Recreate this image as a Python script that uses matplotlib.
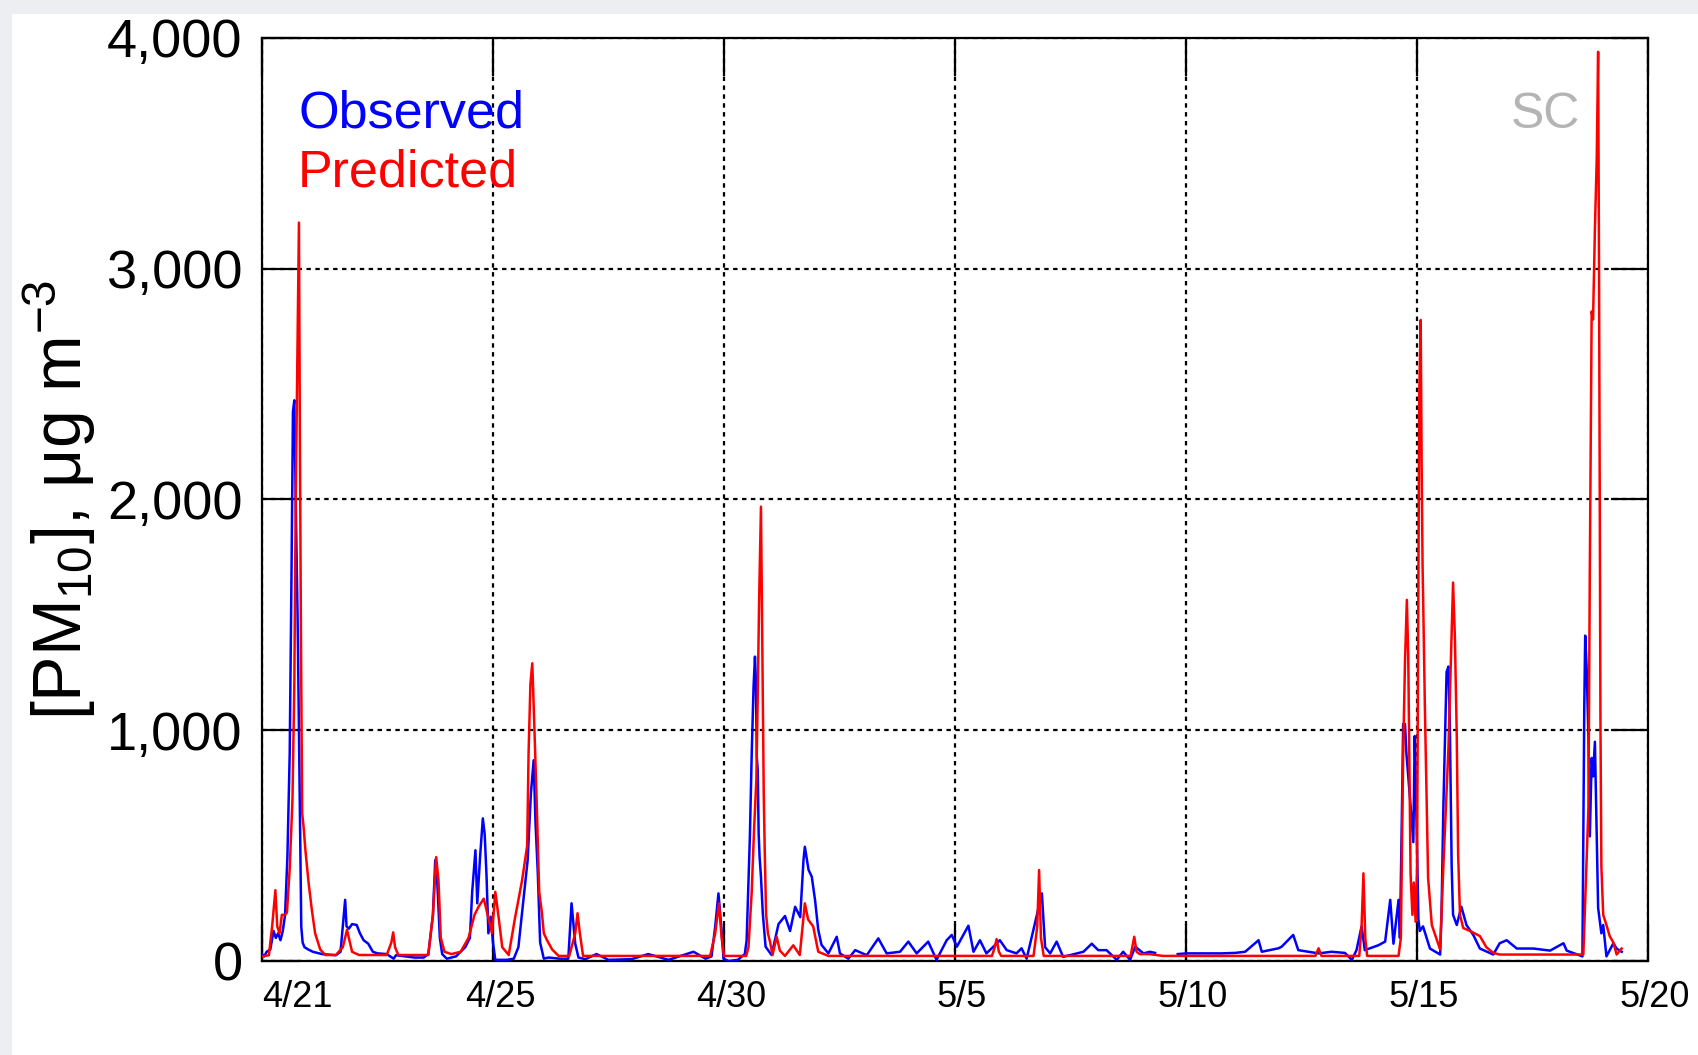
import numpy as np
import matplotlib
matplotlib.use("Agg")
import matplotlib.pyplot as plt
import matplotlib.transforms as mtransforms
from matplotlib.ticker import FuncFormatter
from matplotlib.patches import Rectangle

plt.rcParams['font.family'] = ['Liberation Sans', 'DejaVu Sans']
plt.rcParams['mathtext.fontset'] = 'custom'
plt.rcParams['mathtext.rm'] = 'Liberation Sans'
plt.rcParams['mathtext.it'] = 'Liberation Sans:italic'

# days since 4/20 00:00 and [PM10] in ug/m3
obs_day = [0.00, 0.05, 0.10, 0.18, 0.25, 0.30, 0.35, 0.40, 0.45, 0.50, 0.55, 0.60, 0.64, 0.67,
           0.70, 0.73, 0.77, 0.80, 0.83, 0.85, 0.88, 0.92, 1.00, 1.10, 1.30, 1.60, 1.70, 1.75,
           1.80, 1.83, 1.88, 1.95, 2.05, 2.12, 2.20, 2.30, 2.40, 2.50, 2.70, 2.85, 2.90, 3.10,
           3.30, 3.50, 3.60, 3.70, 3.75, 3.78, 3.85, 3.90, 4.00, 4.20, 4.40, 4.50, 4.55, 4.62,
           4.66, 4.72, 4.78, 4.82, 4.86, 4.90, 4.95, 5.00, 5.05, 5.30, 5.45, 5.55, 5.65, 5.75,
           5.82, 5.88, 5.92, 5.97, 6.02, 6.10, 6.20, 6.45, 6.63, 6.70, 6.78, 6.85, 7.00, 7.24,
           7.50, 8.00, 8.36, 8.80, 9.34, 9.60, 9.73, 9.81, 9.88, 9.94, 9.99, 10.10, 10.30, 10.45,
           10.49, 10.56, 10.60, 10.64, 10.67, 10.69, 10.71, 10.73, 10.75, 10.77, 10.80, 10.84,
           10.90, 11.03, 11.18, 11.32, 11.43, 11.54, 11.65, 11.72, 11.75, 11.83, 11.90, 11.97,
           12.04, 12.11, 12.26, 12.44, 12.51, 12.69, 12.84, 13.09, 13.34, 13.52, 13.81, 13.99,
           14.17, 14.42, 14.60, 14.82, 14.93, 15.04, 15.29, 15.40, 15.54, 15.68, 15.83, 15.97,
           16.12, 16.33, 16.44, 16.55, 16.73, 16.88, 16.95, 17.06, 17.20, 17.34, 17.78, 17.96,
           18.10, 18.28, 18.50, 18.64, 18.79, 18.90, 19.08, 19.22, 19.33, 19.34, 19.82, 20.00,
           20.77, 21.06, 21.28, 21.57, 21.64, 22.00, 22.07, 22.32, 22.43, 22.65, 22.87, 23.15,
           23.44, 23.59, 23.69, 23.80, 23.87, 24.16, 24.31, 24.42, 24.49, 24.60, 24.63, 24.67,
           24.70, 24.74, 24.77, 24.85, 24.92, 24.95, 24.98, 25.03, 25.06, 25.13, 25.28, 25.50,
           25.53, 25.57, 25.64, 25.68, 25.71, 25.75, 25.78, 25.86, 25.96, 26.07, 26.22, 26.36,
           26.65, 26.79, 26.94, 27.16, 27.52, 27.88, 28.17, 28.24, 28.58, 28.62, 28.64, 28.67,
           28.71, 28.74, 28.78, 28.81, 28.85, 28.89, 28.92, 28.99, 29.03, 29.10, 29.25, 29.32,
           29.43]
obs_val = [30, 20, 40, 50, 130, 100, 120, 90, 130, 200, 450, 900, 1700, 2380,
           2430, 2000, 1500, 1000, 500, 150, 80, 60, 50, 40, 30, 25, 40, 150,
           265, 150, 140, 160, 156, 120, 90, 75, 40, 33, 30, 10, 25, 20,
           15, 15, 30, 200, 437, 400, 100, 30, 10, 20, 60, 100, 300, 480,
           250, 450, 618, 550, 370, 120, 192, 80, 5, 5, 10, 60, 250, 437,
           725, 870, 600, 380, 80, 10, 15, 10, 10, 250, 75, 15, 8, 30,
           5, 8, 30, 5, 40, 10, 20, 150, 293, 150, 10, 0, 5, 30,
           90, 538, 900, 1190, 1319, 1218, 886, 827, 553, 452, 365, 206,
           62, 26, 160, 195, 130, 235, 190, 437, 495, 395, 365, 265,
           135, 70, 33, 105, 33, 10, 47, 25, 98, 33, 40, 84,
           33, 84, 5, 90, 113, 62, 153, 40, 90, 33, 62, 90,
           47, 33, 55, 10, 163, 293, 60, 33, 84, 18, 40, 75,
           47, 47, 5, 40, 5, 62, 33, 40, 35, np.nan, 30, 33,
           33, 35, 40, 90, 40, 55, 62, 113, 47, 40, 33, 40,
           35, 5, 47, 150, 47, 68, 84, 265, 75, 265, 100, 600,
           1027, 1027, 900, 700, 515, 975, 700, 180, 130, 150, 54, 28,
           200, 666, 1253, 1276, 1027, 410, 200, 156, 235, 156, 112, 54,
           28, 77, 90, 54, 54, 45, 77, 45, 20, 1100, 1410, 1276,
           975, 540, 880, 800, 950, 540, 230, 120, 156, 20, 77, 54,
           40]

pred_day = [0.00, 0.15, 0.22, 0.29, 0.33, 0.38, 0.43, 0.50, 0.54, 0.60, 0.66, 0.70, 0.73, 0.76,
            0.80, 0.82, 0.845, 0.87, 0.90, 0.94, 1.01, 1.08, 1.15, 1.26, 1.37, 1.60, 1.75, 1.84,
            1.95, 2.10, 2.70, 2.80, 2.84, 2.88, 2.95, 3.60, 3.70, 3.77, 3.82, 3.87, 3.95, 4.10,
            4.30, 4.47, 4.60, 4.69, 4.80, 4.98, 5.05, 5.12, 5.20, 5.34, 5.48, 5.63, 5.74, 5.77,
            5.81, 5.85, 5.89, 5.94, 6.00, 6.06, 6.10, 6.17, 6.28, 6.42, 6.65, 6.78, 6.83, 6.88,
            6.95, 9.70, 9.81, 9.89, 9.95, 10.00, 10.48, 10.53, 10.60, 10.65, 10.70, 10.73, 10.76,
            10.80, 10.82, 10.84, 10.86, 10.88, 10.91, 10.95, 11.00, 11.05, 11.14, 11.21, 11.32,
            11.50, 11.64, 11.75, 11.82, 11.93, 12.04, 12.26, 15.80, 15.86, 15.90, 15.95, 16.00,
            16.70, 16.78, 16.82, 16.86, 16.92, 18.80, 18.88, 18.93, 19.00, 19.20, 19.50, 22.80,
            22.87, 22.93, 23.75, 23.80, 23.84, 23.88, 23.92, 24.60, 24.65, 24.70, 24.74, 24.78,
            24.81, 24.86, 24.90, 24.93, 24.97, 25.00, 25.03, 25.05, 25.08, 25.10, 25.12, 25.135,
            25.17, 25.21, 25.24, 25.32, 25.50, 25.57, 25.68, 25.75, 25.78, 25.82, 25.86, 25.89,
            25.93, 26.00, 26.15, 26.36, 26.50, 26.65, 26.79, 28.60, 28.71, 28.74, 28.78, 28.81,
            28.85, 28.89, 28.92, 28.94, 28.96, 28.97, 28.99, 29.03, 29.10, 29.17, 29.25, 29.32,
            29.43]
pred_val = [20, 25, 150, 307, 150, 120, 200, 200, 210, 400, 700, 1200, 2000, 2520,
            3200, 2290, 1350, 640, 582, 480, 337, 220, 120, 50, 26, 26, 60, 135,
            40, 26, 26, 80, 124, 60, 26, 26, 200, 450, 350, 100, 40, 30,
            40, 100, 200, 236, 270, 120, 300, 192, 60, 26, 190, 350, 500, 900,
            1200, 1290, 1050, 725, 300, 206, 120, 90, 50, 22, 22, 120, 207, 120,
            22, 22, 120, 250, 100, 22, 22, 60, 300, 568, 784, 1145, 1564,
            1969, 1550, 1145, 727, 495, 206, 120, 80, 26, 105, 45, 22,
            68, 26, 250, 180, 150, 40, 22, 22, 60, 95, 40, 22,
            22, 150, 394, 100, 22, 22, 105, 40, 30, 30, 22, 22,
            55, 22, 22, 150, 380, 100, 22, 22, 100, 900, 1300, 1565,
            1320, 380, 200, 340, 170, 400, 1640, 2483, 2778, 2150, 1716, 1540,
            1100, 666, 360, 156, 50, 410, 923, 1435, 1640, 1400, 976, 462,
            200, 143, 130, 108, 60, 35, 28, 28, 666, 1690, 2815, 2780,
            3170, 3480, 3940, 2970, 1690, 1050, 410, 200, 156, 108, 80, 28,
            54]

tick_days = [0, 5, 10, 15, 20, 25, 30]
tick_labels = ['4/21', '4/25', '4/30', '5/5', '5/10', '5/15', '5/20']
y_ticks = [0, 1000, 2000, 3000, 4000]

fig = plt.figure(figsize=(16.99, 10.55), dpi=100, facecolor='#eceef1')
fig.patches.append(Rectangle((12 / 1699, 0), 1, 1 - 14 / 1055, transform=fig.transFigure,
                             facecolor='white', edgecolor='none', zorder=-1))
ax = fig.add_axes([0.1542, 0.0891, 0.8158, 0.8749])
ax.set_facecolor('white')

ax.plot(obs_day, obs_val, color='#0000ff', lw=1.8, zorder=3)
ax.plot(pred_day, pred_val, color='#ff0000', lw=1.8, zorder=4)

ax.set_xlim(0, 30)
ax.set_ylim(0, 4000)
ax.set_xticks(tick_days)
ax.set_xticklabels(tick_labels)
ax.set_yticks(y_ticks)
ax.yaxis.set_major_formatter(FuncFormatter(lambda v, p: f"{int(v):,}"))

ax.grid(True, color='black', linestyle=(0, (2, 2)), lw=1.6)
ax.tick_params(direction='in', length=27, width=1.6, top=True, right=True, color='black')
ax.tick_params(axis='y', labelsize=39, pad=14)
ax.tick_params(axis='x', labelsize=26, pad=14)
for s in ax.spines.values():
    s.set_linewidth(1.6)

shift = mtransforms.ScaledTranslation(0.07, 0, fig.dpi_scale_trans)
for i, lbl in enumerate(ax.get_xticklabels()):
    lbl.set_family(['Liberation Sans Narrow', 'Liberation Sans'])
    if i == 0:
        lbl.set_horizontalalignment('left')
    else:
        lbl.set_transform(lbl.get_transform() + shift)

ax.text(0.026, 0.918, 'Observed', color='#0000ff', fontsize=37.5, transform=ax.transAxes,
        ha='left', va='center')
ax.text(0.026, 0.854, 'Predicted', color='#ff0000', fontsize=37.5, transform=ax.transAxes,
        ha='left', va='center')
ax.text(0.951, 0.917, 'SC', color='#b4b4b4', fontsize=36, transform=ax.transAxes,
        ha='right', va='center')

fig.text(60 / 1699, 0.5 * (0.0891 + 0.964), r'[PM$_\mathregular{10}$], μg m$^\mathregular{-3}$',
         rotation=90, fontsize=49, ha='center', va='center')

fig.savefig('out.png', dpi=100, facecolor=fig.get_facecolor())
